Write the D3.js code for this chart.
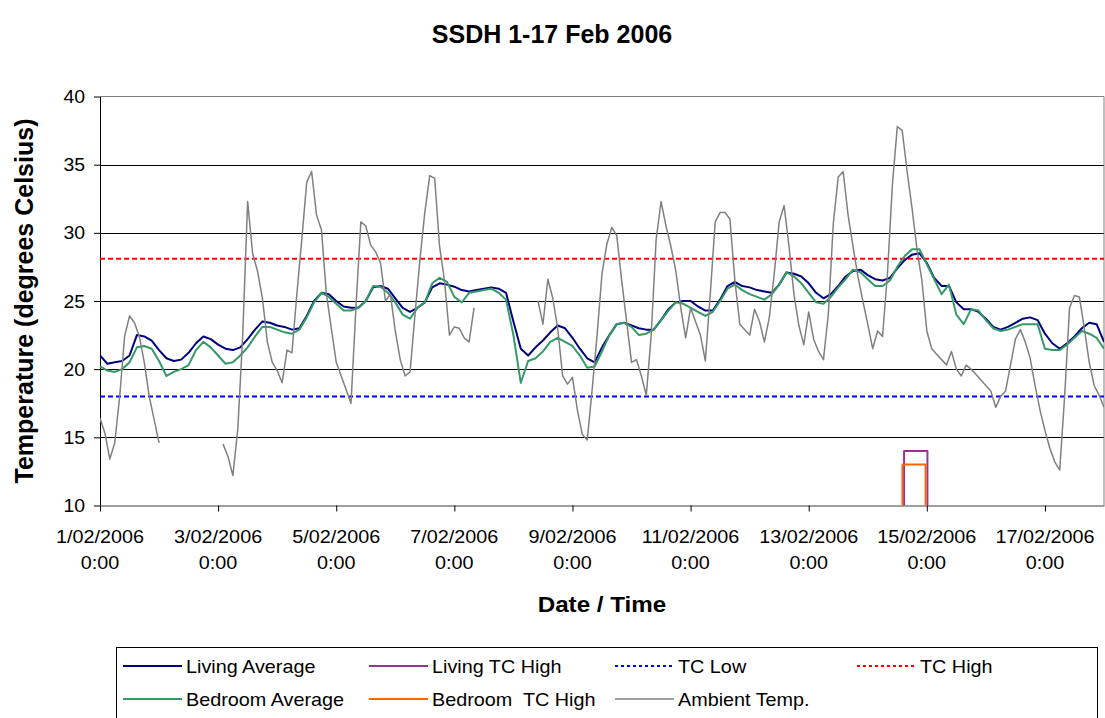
<!DOCTYPE html>
<html lang="en">
<head>
<meta charset="UTF-8">
<title>SSDH 1-17 Feb 2006</title>
<style>
  body { margin: 0; background: #fff; }
  svg { display: block; font-family: "Liberation Sans", Arial, sans-serif; }
</style>
</head>
<body>
<script src="https://cdn.jsdelivr.net/npm/d3@7"></script>
<script>
// sample hours since 1/02/2006 0:00
const indoorHours = d3.range(0, 409, 3);
const ambientHours = d3.range(0, 409, 2);

const livingAverage = [
  21.0, 20.4, 20.5, 20.6, 21.0, 22.5, 22.4, 22.1, 21.4, 20.8, 20.6, 20.7, 21.2, 21.9, 22.4, 22.2, 21.8, 21.5, 21.4, 21.6, 22.2, 22.9, 23.5, 23.4, 23.2, 23.1, 22.9, 23.0,
  23.9, 25.0, 25.6, 25.5, 25.0, 24.6, 24.5, 24.5, 25.0, 26.0, 26.1, 25.9, 25.2, 24.5, 24.2, 24.5, 24.9, 26.0, 26.3, 26.2, 26.05, 25.8, 25.7, 25.8, 25.9, 26.0, 25.9,
  25.6, 23.5, 21.5, 21.0, 21.6, 22.1, 22.7, 23.2, 23.0, 22.3, 21.5, 20.8, 20.5, 21.6, 22.5, 23.3, 23.4, 23.2, 23.0, 22.9, 22.9, 23.6, 24.4, 24.9, 25.0, 25.0, 24.6,
  24.3, 24.3, 25.1, 26.1, 26.4, 26.1, 26.0, 25.8, 25.7, 25.6, 26.2, 27.1, 27.0, 26.8, 26.3, 25.6, 25.2, 25.5, 26.1, 26.8, 27.2, 27.3, 26.9, 26.6, 26.5, 26.7, 27.4,
  28.0, 28.4, 28.5, 27.8, 26.7, 26.1, 26.1, 24.9, 24.4, 24.4, 24.2, 23.7, 23.1, 22.9, 23.1, 23.4, 23.7, 23.8, 23.6, 22.6, 21.9, 21.5, 21.9, 22.4, 23.0, 23.4, 23.3, 22.0
];

const bedroomAverage = [
  20.2, 19.9, 19.8, 20.0, 20.5, 21.6, 21.7, 21.5, 20.6, 19.5, 19.8, 20.0, 20.3, 21.4, 22.0, 21.6, 21.0, 20.4, 20.5, 21.0, 21.6, 22.4, 23.1, 23.1, 22.9, 22.7, 22.6, 22.9,
  23.8, 24.9, 25.6, 25.3, 24.8, 24.3, 24.3, 24.5, 25.0, 26.1, 26.05, 25.6, 24.9, 24.0, 23.7, 24.5, 24.9, 26.3, 26.7, 26.4, 25.3, 24.9, 25.6, 25.7, 25.8, 25.9, 25.6,
  25.1, 22.5, 19.0, 20.6, 20.8, 21.3, 22.0, 22.3, 22.0, 21.7, 21.0, 20.1, 20.2, 21.3, 22.5, 23.3, 23.4, 23.1, 22.5, 22.6, 22.9, 23.6, 24.3, 24.9, 24.8, 24.5, 24.2,
  23.9, 24.2, 25.0, 25.9, 26.2, 25.8, 25.5, 25.3, 25.1, 25.5, 26.2, 27.1, 26.8, 26.3, 25.6, 24.9, 24.8, 25.3, 26.0, 26.6, 27.3, 27.1, 26.6, 26.1, 26.1, 26.5, 27.5,
  28.3, 28.8, 28.8, 27.7, 26.6, 25.5, 26.2, 24.0, 23.3, 24.4, 24.3, 23.6, 23.0, 22.8, 22.9, 23.1, 23.3, 23.3, 23.3, 21.5, 21.4, 21.4, 21.8, 22.3, 22.8, 22.6, 22.3, 21.5
];

// null = no reading logged
const ambientTemp = [
  16.4, 15.3, 13.4, 14.6, 18.0, 22.4, 23.9, 23.4, 22.4, 20.5, 18.0, 16.3, 14.6,
  null, null, null, null, null, null, null, null, null, null, null, null,
  14.5, 13.6, 12.2, 15.6, 22.5, 32.3, 28.5, 27.2, 25.2, 22.0, 20.5, 19.9, 19.0, 21.4, 21.2, 25.5,
  29.5, 33.7, 34.5, 31.3, 30.2, 25.5, 23.0, 20.5, 19.5, 18.5, 17.5, 24.5, 30.8, 30.5, 29.1, 28.6, 27.8, 25.0,
  25.5, 22.8, 20.7, 19.5, 19.8, 24.0, 28.0, 31.5, 34.2, 34.0, 29.0, 26.5, 22.5, 23.1, 23.0, 22.3, 22.0, 24.5,
  null, null, null, null, null, null, null, null, null, null, null, null,
  25.0, 23.3, 26.6, 25.2, 23.0, 19.5, 18.9, 19.4, 17.0, 15.2, 14.8, 18.5, 22.5, 27.0, 29.2, 30.4, 29.8,
  26.5, 23.5, 20.5, 20.7, 19.5, 18.1, 22.5, 29.5, 32.3, 30.5, 29.0, 27.2, 24.5, 22.3, 24.5, 23.5,
  22.5, 20.6, 25.5, 30.8, 31.5, 31.5, 31.0, 26.5, 23.3, 22.9, 22.5, 24.4, 23.5, 22.0, 23.8, 27.0, 30.8, 32.0, 29.0, 25.5,
  23.2, 21.8, 24.2, 22.2, 21.3, 20.7, 24.1, 30.7, 34.1, 34.5, 31.3, 29.0, 26.8, 25.0, 23.3, 21.5, 22.8, 22.4, 27.0, 33.5, 37.8,
  37.5, 34.5, 31.8, 28.8, 26.5, 22.8, 21.5, 21.1, 20.7, 20.3, 21.3, 20.0, 19.5, 20.3, 20.0, 19.6, 19.2, 18.8, 18.4, 17.2,
  18.0, 18.4, 20.3, 22.2, 22.9, 22.0, 20.8, 18.8, 17.0, 15.5, 14.2, 13.2, 12.6, 18.0, 24.5, 25.4, 25.3, 23.0, 20.5, 18.8, 18.1, 17.2
];

const livingTCHighHours = [0, 326.75, 326.75, 336.25, 336.25, 408];
const livingTCHigh = [0, 0, 14, 14, 0, 0];
const bedroomTCHighHours = [0, 326.1, 326.1, 335.5, 335.5, 408];
const bedroomTCHigh = [0, 0, 13, 13, 0, 0];

const tcLow = 18;
const tcHigh = 28.1;

const yTicks = [10, 15, 20, 25, 30, 35, 40];
const xTickLabels = ["1/02/2006", "3/02/2006", "5/02/2006", "7/02/2006", "9/02/2006",
                     "11/02/2006", "13/02/2006", "15/02/2006", "17/02/2006"];
const xTickTime = "0:00";

const W = 1105, H = 718;
const M = { left: 100, right: 1104, top: 96.5, bottom: 505.5 };
const parseDay = d3.timeParse("%d/%m/%Y");
const start = parseDay("1/02/2006");
const atHour = h => new Date(start.getTime() + h * 3600e3);

const x = d3.scaleTime().domain([start, atHour(408)]).range([M.left, M.right]);
const y = d3.scaleLinear().domain([10, 40]).range([M.bottom, M.top]);

const svg = d3.select("body").append("svg").attr("width", W).attr("height", H);

svg.append("defs").append("clipPath").attr("id", "plot")
  .append("rect")
  .attr("x", M.left).attr("y", M.top)
  .attr("width", M.right - M.left).attr("height", M.bottom - M.top);

// text with a little horizontal stretch, like the original export
function label(g, txt, px, py, size, opts = {}) {
  const sx = opts.sx || 1;
  const rot = opts.rotate ? ` rotate(${opts.rotate})` : "";
  return g.append("text")
    .attr("transform", `translate(${px},${py})${rot} scale(${sx},1)`)
    .attr("text-anchor", opts.anchor || "start")
    .attr("font-size", size)
    .attr("font-weight", opts.bold ? "bold" : "normal")
    .attr("fill", "#000")
    .style("white-space", "pre")
    .text(txt);
}

// grid lines
svg.append("g").selectAll("line")
  .data(yTicks.filter(v => v > 10 && v < 40))
  .join("line")
  .attr("x1", M.left).attr("x2", M.right)
  .attr("y1", d => Math.round(y(d)) + 0.5).attr("y2", d => Math.round(y(d)) + 0.5)
  .attr("stroke", "#000");

// plot frame (top / right gray)
svg.append("path")
  .attr("d", `M${M.left},${M.top}H${M.right}V${M.bottom}`)
  .attr("fill", "none").attr("stroke", "#808080");

// y axis
const gy = svg.append("g").attr("transform", `translate(${M.left},0)`)
  .call(d3.axisLeft(y).tickValues(yTicks).tickSize(6).tickSizeOuter(0).tickPadding(0).tickFormat(""));
gy.select(".domain").attr("stroke", "#000");
gy.selectAll(".tick line").attr("stroke", "#000");
yTicks.forEach(v => label(svg, v, M.left - 15, y(v) + 6.5, 18, { anchor: "end", sx: 1.08 }));

// x axis
const gx = svg.append("g").attr("transform", `translate(0,${M.bottom})`)
  .call(d3.axisBottom(x).tickValues(xTickLabels.map(parseDay)).tickSize(6).tickSizeOuter(0).tickFormat(""));
gx.select(".domain").attr("stroke", "#404040");
gx.selectAll(".tick line").attr("stroke", "#000");
xTickLabels.forEach(d => {
  const px = x(parseDay(d));
  label(svg, d, px, 543, 18, { anchor: "middle", sx: 1.1 });
  label(svg, xTickTime, px, 569, 18, { anchor: "middle", sx: 1.1 });
});

// series
const pts = (hs, vs) => hs.map((h, i) => [h, vs[i]]);
const flat = v => [[0, v], [408, v]];
const series = [
  { name: "Living Average", data: pts(indoorHours, livingAverage), color: "#000080", w: 2 },
  { name: "Living TC High", data: pts(livingTCHighHours, livingTCHigh), color: "#993399", w: 2 },
  { name: "TC Low", data: flat(tcLow), color: "#0000ff", w: 2, dash: "5,3" },
  { name: "TC High", data: flat(tcHigh), color: "#ff0000", w: 2, dash: "5,3" },
  { name: "Bedroom Average", data: pts(indoorHours, bedroomAverage), color: "#339966", w: 2 },
  { name: "Bedroom  TC High", data: pts(bedroomTCHighHours, bedroomTCHigh), color: "#ff6600", w: 2 },
  { name: "Ambient Temp.", data: pts(ambientHours, ambientTemp), color: "#808080", w: 1.5 }
];

const line = d3.line()
  .defined(d => d[1] != null)
  .x(d => x(atHour(d[0])))
  .y(d => y(d[1]));

const gPlot = svg.append("g").attr("clip-path", "url(#plot)");
series.forEach(s => {
  gPlot.append("path")
    .attr("d", line(s.data))
    .attr("fill", "none")
    .attr("stroke", s.color)
    .attr("stroke-width", s.w)
    .attr("stroke-dasharray", s.dash || null)
    .attr("stroke-linejoin", "round");
});

// titles
label(svg, "SSDH 1-17 Feb 2006", 552, 43, 25, { anchor: "middle", bold: true });
label(svg, "Date / Time", 602, 612, 22, { anchor: "middle", bold: true, sx: 1.1 });
label(svg, "Temperature (degrees Celsius)", 33, 301, 25, { anchor: "middle", bold: true, rotate: -90 });

// legend
const legend = svg.append("g");
legend.append("rect")
  .attr("x", 116.5).attr("y", 647.5).attr("width", 981).attr("height", 90)
  .attr("fill", "#fff").attr("stroke", "#000");
const colX = [123, 369, 615, 857];
const rowY = [666, 699];
series.forEach((s, i) => {
  const cx = colX[i % 4], cy = rowY[Math.floor(i / 4)];
  legend.append("line")
    .attr("x1", cx).attr("x2", cx + 59).attr("y1", cy).attr("y2", cy)
    .attr("stroke", s.color).attr("stroke-width", s.w)
    .attr("stroke-dasharray", s.dash ? "3,3" : null);
  label(legend, s.name, cx + 63, cy + 6.5, 18, { sx: 1.1 });
});
</script>
</body>
</html>
